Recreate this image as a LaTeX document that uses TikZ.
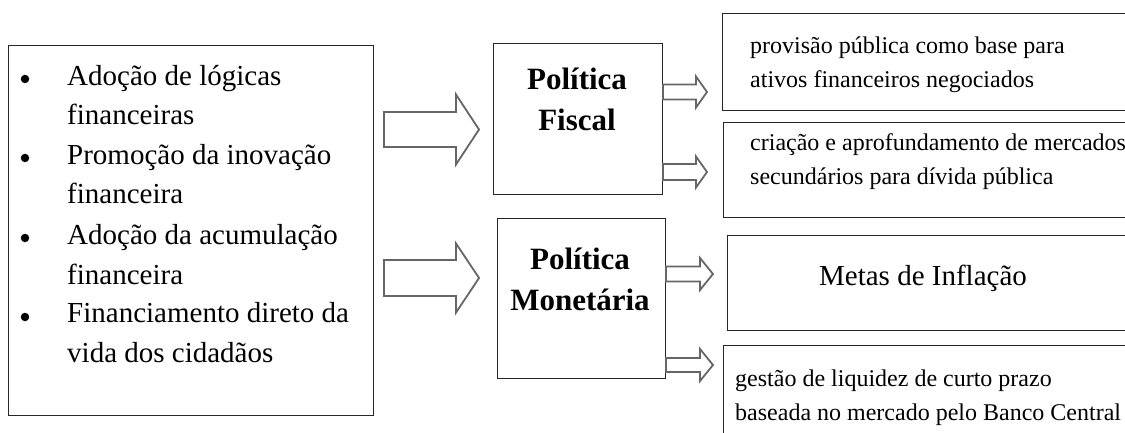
\documentclass[tikz,border=0pt]{standalone}
\usepackage{fontspec}
\setmainfont{Liberation Serif}
\begin{document}
\begin{tikzpicture}[x=1pt,y=-1pt,
  box/.style={draw=black!85,line width=1.4pt,fill=white,inner sep=0pt,anchor=north west},
  arr/.style={draw=black!60,line width=1.8pt,fill=white,line join=miter},
  bul/.style={circle,fill=black,inner sep=0pt,minimum size=8.5pt},
  lst/.style={anchor=base west,align=left,inner sep=0pt,font=\fontsize{29}{39.3}\selectfont},
  pol/.style={anchor=base,align=center,inner sep=0pt,font=\fontsize{31}{41}\selectfont\bfseries},
  rt/.style={anchor=base west,align=left,inner sep=0pt,font=\fontsize{24}{34}\selectfont}]
\useasboundingbox (0,0) rectangle (1125,433);
\clip (0,0) rectangle (1125,433);
\newcommand\blockarr[6]{% x0, xhead, xtip, yc, shaft half, head half
  \draw[arr] (#1,#4-#5) -- (#2,#4-#5) -- (#2,#4-#6) -- (#3,#4) -- (#2,#4+#6) -- (#2,#4+#5) -- (#1,#4+#5) -- cycle;}
% left box
\node[box,minimum width=365pt,minimum height=370pt] (L) at (8,45) {};
\node[bul] (b1) at (25,79) {};
\node[bul] (b2) at (25,158) {};
\node[bul] (b3) at (25,238) {};
\node[bul] (b4) at (25,317) {};
% base anchor = baseline of last line
\node[lst] (t1) at (67,125) {Adoção de lógicas\\financeiras};
\node[lst] (t2) at (67,204) {Promoção da inovação\\financeira};
\node[lst] (t3) at (67,284) {Adoção da acumulação\\financeira};
\node[lst] (t4) at (67,362) {Financiamento direto da\\vida dos cidadãos};
% policy boxes
\node[box,minimum width=169pt,minimum height=151pt] (F) at (493,43) {};
\node[box,minimum width=168pt,minimum height=160pt] (M) at (497,218) {};
\node[pol] (Ft) at (577,131) {Política\\Fiscal};
\node[pol] (Mt) at (580,310) {Política\\Monetária};
% right boxes
\node[box,minimum width=420pt,minimum height=97pt] (R1) at (722,13) {};
\node[box,minimum width=420pt,minimum height=95pt] (R2) at (723,122) {};
\node[box,minimum width=420pt,minimum height=95pt] (R3) at (727,235) {};
\node[box,minimum width=420pt,minimum height=110pt] (R4) at (723,345) {};
\node[rt] (r1) at (750,88) {provisão pública como base para\\ativos financeiros negociados};
\node[rt] (r2) at (750,185) {criação e aprofundamento de mercados\\secundários para dívida pública};
\node[anchor=base,inner sep=0pt,font=\fontsize{29}{34}\selectfont] (r3) at (923,285) {Metas de Inflação};
\node[rt] (r4) at (735,420) {gestão de liquidez de curto prazo\\baseada no mercado pelo Banco Central};
% big arrows
\blockarr{384}{456}{479}{129.5}{17.5}{35}
\blockarr{384}{456}{479}{278}{18}{34.5}
% small arrows
\blockarr{663}{696}{707}{92}{7.5}{15.5}
\blockarr{663}{696}{707}{172}{8}{15.5}
\blockarr{666}{700}{713}{274}{7.5}{16}
\blockarr{666}{700}{713}{365}{7}{16}
\end{tikzpicture}
\end{document}
